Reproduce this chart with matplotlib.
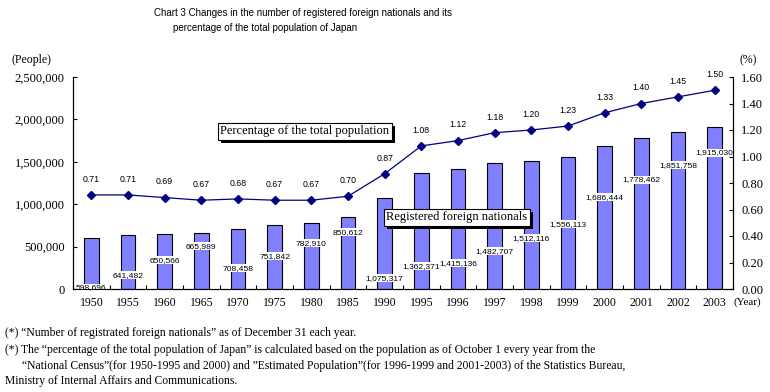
import numpy as np
import matplotlib
matplotlib.use("Agg")
import matplotlib.pyplot as plt
from matplotlib.patches import Rectangle
from matplotlib.ticker import FuncFormatter

years = ['1950', '1955', '1960', '1965', '1970', '1975', '1980', '1985', '1990',
         '1995', '1996', '1997', '1998', '1999', '2000', '2001', '2002', '2003']
foreigners = [598696, 641482, 650566, 665989, 708458, 751842, 782910, 850612, 1075317,
              1362371, 1415136, 1482707, 1512116, 1556113, 1686444, 1778462, 1851758, 1915030]
percent = [0.71, 0.71, 0.69, 0.67, 0.68, 0.67, 0.67, 0.70, 0.87,
           1.08, 1.12, 1.18, 1.20, 1.23, 1.33, 1.40, 1.45, 1.50]

# where the bar value boxes sit (people scale), as placed in the original
label_y = [12000, 164000, 340000, 505000, 246000, 387000, 540000, 669000, 129000,
           270000, 305000, 446000, 599000, 763000, 1080000, 1291000, 1460000, 1608000]

SERIF = ['Liberation Serif', 'DejaVu Serif']
SANS = ['Liberation Sans', 'DejaVu Sans']
NARROW = ['Liberation Sans Narrow', 'Liberation Sans', 'DejaVu Sans']

bar_color = '#8080ff'
line_color = '#000080'

fig = plt.figure(figsize=(7.7, 3.92), dpi=100)
ax = fig.add_axes([73 / 770, 1 - 289 / 392, 660 / 770, 212 / 392])
ax2 = ax.twinx()

x = np.arange(len(years))
ax.bar(x, foreigners, width=0.4, color=bar_color, edgecolor='black', linewidth=0.8, zorder=2)
ax.set_xlim(-0.5, len(years) - 0.5)
ax.set_ylim(0, 2500000)
ax.set_yticks(np.arange(0, 2500001, 500000))
ax.yaxis.set_major_formatter(FuncFormatter(lambda v, p: f'{int(v):,}'))

for xi, v, ly in zip(x, foreigners, label_y):
    ax.text(xi, ly, f'{v:,}', ha='center', va='center', fontsize=6.1, family=SANS,
            bbox=dict(boxstyle='square,pad=0.06', fc='white', ec='none'), zorder=5,
            clip_on=False)

ax2.plot(x, percent, color=line_color, linewidth=0.9, marker='D', markersize=4, zorder=3)
ax2.set_ylim(0, 1.6)
ax2.set_yticks(np.arange(0, 1.61, 0.2))
ax2.yaxis.set_major_formatter(FuncFormatter(lambda v, p: f'{v:.2f}'))
for xi, p in zip(x, percent):
    ax2.annotate(f'{p:.2f}', (xi, p), xytext=(0, 8), textcoords='offset points',
                 ha='center', va='bottom', fontsize=6.3, family=SANS)

ax.set_xticks(x)
ax.set_xticklabels(years, family=SERIF, fontsize=8.5)
ax.set_xticks(np.arange(-0.5, len(years)), minor=True)
ax.tick_params(axis='x', which='major', length=0, pad=6)
ax.tick_params(axis='x', which='minor', direction='in', length=3, width=0.8)
ax.tick_params(axis='y', direction='in', length=3, width=0.8, labelsize=9, pad=6)
ax2.tick_params(axis='y', direction='in', length=3, width=0.8, labelsize=9, pad=6)
for lab in ax.get_yticklabels() + ax2.get_yticklabels():
    lab.set_family(SERIF)
for a in (ax, ax2):
    a.spines['top'].set_visible(False)
    for s in ('left', 'right', 'bottom'):
        a.spines[s].set_linewidth(0.8)
ax2.set_zorder(ax.get_zorder() + 1)
ax2.patch.set_visible(False)

boxes = []
for bx, by, txt in [(305, 131, 'Percentage of the total population'),
                    (457, 217, 'Registered foreign nationals')]:
    t = fig.text(bx / 770, 1 - by / 392, txt, ha='center', va='center', fontsize=9,
                 family=SERIF, zorder=10,
                 bbox=dict(boxstyle='square,pad=0.2', fc='white', ec='black', lw=0.8))
    boxes.append(t)

fig.text(154 / 770, 1 - 13 / 392,
         'Chart 3 Changes in the number of registered foreign nationals and its',
         ha='left', va='center', fontsize=7, family=NARROW)
fig.text(173 / 770, 1 - 28 / 392, 'percentage of the total population of Japan',
         ha='left', va='center', fontsize=7, family=NARROW)
fig.text(12 / 770, 1 - 60 / 392, '(People)', ha='left', va='center', fontsize=8.5, family=SERIF)
fig.text(739 / 770, 1 - 60 / 392, '(%)', ha='left', va='center', fontsize=8.5, family=SERIF)
fig.text(734 / 770, 1 - 302 / 392, '(Year)', ha='left', va='center', fontsize=8, family=SERIF)

notes = [
    (5, 333, '(*) \u201cNumber of registrated foreign nationals\u201d as of December 31 each year.'),
    (5, 350, '(*) The \u201cpercentage of the total population of Japan\u201d is calculated based on '
             'the population as of October 1 every year from the'),
    (22, 366, '\u201cNational Census\u201d(for 1950-1995 and 2000) and \u201dEstimated Population\u201d'
              '(for 1996-1999 and 2001-2003) of the Statistics Bureau,'),
    (5, 381, 'Ministry of Internal Affairs and Communications.'),
]
for nx, ny, t in notes:
    fig.text(nx / 770, 1 - ny / 392, t, ha='left', va='center', fontsize=8.4, family=SERIF)

# drop shadows under the two boxed captions
fig.canvas.draw()
for t in boxes:
    ext = t.get_bbox_patch().get_window_extent()
    fig.add_artist(Rectangle((ext.x0 + 3, ext.y0 - 3), ext.width, ext.height,
                             transform=None, fc='black', ec='none', zorder=9))

fig.savefig('out.png', dpi=100)
